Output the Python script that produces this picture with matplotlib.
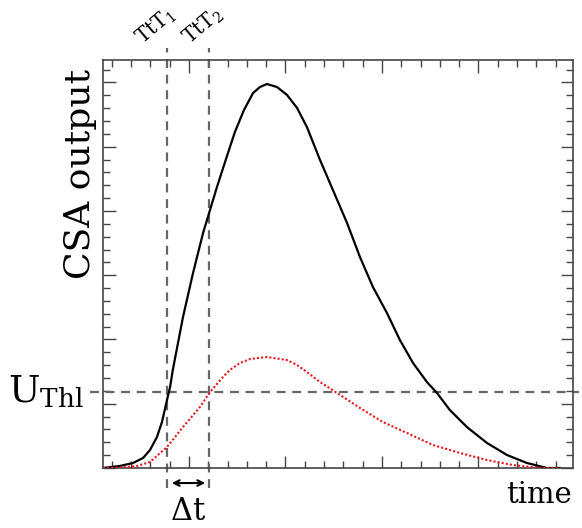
import matplotlib
matplotlib.use("Agg")
import matplotlib.pyplot as plt
from matplotlib.ticker import MultipleLocator

plt.rcParams['font.family'] = ['DejaVu Serif']
plt.rcParams['mathtext.fontset'] = 'dejavuserif'

# ---- data ----
black_t = [0.54, 1.42, 2.10, 2.62, 2.98, 3.34, 3.60, 3.86, 4.02, 4.17, 4.69, 5.21, 5.73,
           6.09, 6.45, 6.97, 7.38, 7.85, 8.32, 8.68, 9.04, 9.56, 10.08, 10.60, 11.11,
           11.79, 12.46, 13.19, 13.86, 14.53, 15.26, 15.93, 16.61, 17.33, 17.85, 18.52,
           19.40, 20.44, 21.48, 22.51, 23.55, 24.20]
black_v = [0.0, 0.16, 0.39, 0.78, 1.40, 2.41, 3.58, 5.29, 6.30, 7.70, 11.75, 15.18, 18.29,
           20.08, 21.87, 24.28, 26.15, 27.86, 29.18, 29.65, 29.88, 29.65, 29.03, 28.02, 26.54,
           23.97, 21.63, 19.07, 16.42, 14.09, 12.06, 9.96, 8.17, 6.69, 5.84, 4.51,
           3.19, 1.95, 1.01, 0.39, 0.0, 0.0]
red_t = [0.54, 1.42, 2.31, 2.98, 3.86, 4.69, 5.57, 6.09, 6.76, 7.12, 7.64, 8.16, 9.04,
         10.08, 10.60, 11.11, 11.79, 12.67, 13.86, 15.05, 16.30, 17.64, 19.04, 20.44,
         21.79, 23.19, 24.20]
red_v = [0.0, 0.03, 0.16, 0.47, 1.63, 3.19, 4.75, 5.91, 7.08, 7.63, 8.17, 8.48, 8.64,
         8.40, 8.02, 7.47, 6.69, 5.84, 4.67, 3.58, 2.72, 1.79, 1.17, 0.62,
         0.23, 0.0, 0.0]
threshold = 5.91
t1, t2 = 3.86, 6.04
xlim = (0.544, 24.9)
ylim = (0.0, 31.75)

W, H = 582, 528
fig = plt.figure(figsize=(W / 100, H / 100), dpi=100)
ax = fig.add_axes([103 / W, 1 - 468 / H, (573 - 103) / W, (468 - 60) / H])

ax.plot(black_t, black_v, color='black', lw=1.6, zorder=3, solid_joinstyle='round')
ax.plot(red_t, red_v, color='#e8161b', lw=1.5, ls=(0, (1, 1)), zorder=3)

ax.set_xlim(*xlim)
ax.set_ylim(*ylim)

dash = dict(color='#666666', lw=1.6, ls=(0, (4, 3)), clip_on=False, zorder=2)
for tv in (t1, t2):
    ax.plot([tv, tv], [ylim[0] - 1.55, ylim[1] + 0.95], **dash)
ax.plot([xlim[0] - 0.68, xlim[1] + 0.3], [threshold, threshold], **dash)

ax.xaxis.set_major_locator(MultipleLocator(5))
ax.xaxis.set_minor_locator(MultipleLocator(1))
ax.yaxis.set_major_locator(MultipleLocator(5))
ax.yaxis.set_minor_locator(MultipleLocator(1))
ax.tick_params(which='both', direction='in', top=True, right=True,
               labelbottom=False, labelleft=False, color='#444444', width=1.0)
ax.tick_params(which='major', length=9)
ax.tick_params(which='minor', length=5)
for s in ax.spines.values():
    s.set_color('#444444')
    s.set_linewidth(1.2)

# double arrow for delta t
ax.annotate('', xy=(t1 + 0.25, -1.17), xytext=(t2 - 0.2, -1.17),
            arrowprops=dict(arrowstyle='<->', color='black', lw=1.5,
                            shrinkA=0, shrinkB=0, mutation_scale=10),
            annotation_clip=False)

def fx(px):
    return px / W

def fy(py):
    return 1 - py / H

fig.text(fx(80), fy(174), 'CSA output', rotation=90, ha='center', va='center', fontsize=26)
fig.text(fx(8), fy(392), r'$\mathrm{U}_{\mathrm{Thl}}$', ha='left', va='center', fontsize=27)
fig.text(fx(188), fy(511), r'$\Delta\mathrm{t}$', ha='center', va='center', fontsize=22)
fig.text(fx(572), fy(503), 'time', ha='right', va='baseline', fontsize=21)
fig.text(fx(143), fy(45), r'TtT$_1$', rotation=40, rotation_mode='anchor',
         ha='left', va='baseline', fontsize=14.5)
fig.text(fx(190), fy(45), r'TtT$_2$', rotation=40, rotation_mode='anchor',
         ha='left', va='baseline', fontsize=14.5)

fig.savefig('out.png', dpi=100)
